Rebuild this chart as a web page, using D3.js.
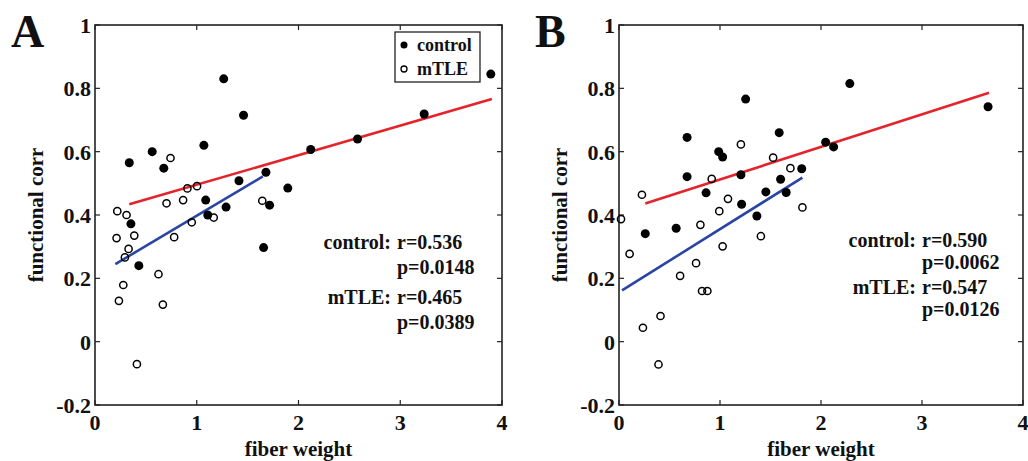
<!DOCTYPE html>
<html>
<head>
<meta charset="utf-8">
<script src="https://cdn.jsdelivr.net/npm/d3@7"></script>
<style>
  body { margin: 0; background: #fff; }
  svg text { font-family: "Liberation Serif", "Times New Roman", serif; font-weight: bold; fill: #111; }
</style>
</head>
<body>
<svg id="chart" width="1028" height="461"></svg>
<script>
// tick values / labels
var xTicks = [0, 1, 2, 3, 4];
var yTicks = [-0.2, 0, 0.2, 0.4, 0.6, 0.8, 1];
var yTickLabels = ["-0.2", "0", "0.2", "0.4", "0.6", "0.8", "1"];

// panel A points, [fiber weight, functional corr]
var controlA = [[0.337,0.565],[0.562,0.60],[0.676,0.548],[1.07,0.62],[1.265,0.83],[1.46,0.715],[1.68,0.535],
  [1.415,0.508],[1.088,0.447],[1.108,0.40],[1.288,0.425],[1.716,0.431],[1.895,0.485],[1.657,0.297],
  [0.353,0.372],[0.431,0.24],[2.12,0.607],[2.58,0.64],[3.235,0.719],[3.89,0.845]];
var mtleA = [[0.219,0.412],[0.31,0.40],[0.212,0.327],[0.386,0.335],[0.33,0.293],[0.294,0.266],[0.278,0.179],
  [0.235,0.129],[0.624,0.213],[0.667,0.117],[0.412,-0.071],[0.742,0.58],[0.703,0.437],[0.778,0.33],
  [0.866,0.447],[0.908,0.484],[1.003,0.491],[0.951,0.377],[1.167,0.392],[1.644,0.445]];
// fitted lines (end points)
var fitControlA = [[0.337,0.434],[3.9,0.766]];
var fitMtleA = [[0.2,0.245],[1.65,0.522]];

// panel B points
var controlB = [[0.26,0.341],[0.566,0.358],[0.674,0.645],[0.674,0.521],[0.862,0.47],[0.987,0.60],[1.026,0.583],
  [1.207,0.527],[1.214,0.434],[1.254,0.766],[1.365,0.397],[1.454,0.473],[1.586,0.66],[1.60,0.513],
  [1.655,0.471],[1.809,0.546],[2.046,0.63],[2.125,0.615],[2.285,0.815],[3.654,0.742]];
var mtleB = [[0.02,0.387],[0.105,0.277],[0.227,0.464],[0.237,0.044],[0.411,0.081],[0.391,-0.072],[0.605,0.208],
  [0.763,0.248],[0.806,0.369],[0.822,0.16],[0.875,0.16],[0.918,0.514],[0.993,0.412],[1.026,0.301],
  [1.079,0.451],[1.207,0.623],[1.405,0.333],[1.526,0.581],[1.697,0.548],[1.816,0.424]];
var fitControlB = [[0.26,0.436],[3.664,0.786]];
var fitMtleB = [[0.03,0.162],[1.816,0.518]];

var statsA = [["control:", "r=0.536"], ["", "p=0.0148"], ["mTLE:", "r=0.465"], ["", "p=0.0389"]];
var statsB = [["control:", "r=0.590"], ["", "p=0.0062"], ["mTLE:", "r=0.547"], ["", "p=0.0126"]];

var svg = d3.select("#chart");

function drawPanel(opt) {
  var x = d3.scaleLinear().domain([0, 4]).range([opt.left, opt.right]);
  var y = d3.scaleLinear().domain([-0.2, 1]).range([opt.bottom, opt.top]);
  var g = svg.append("g");

  // ticks (inside, on all four sides like matlab)
  var tl = 5;
  xTicks.forEach(function(t) {
    g.append("line").attr("x1", x(t)).attr("x2", x(t)).attr("y1", opt.bottom).attr("y2", opt.bottom - tl);
    g.append("line").attr("x1", x(t)).attr("x2", x(t)).attr("y1", opt.top).attr("y2", opt.top + tl);
    g.append("text").attr("x", x(t)).attr("y", opt.bottom + 25).attr("text-anchor", "middle")
      .attr("font-size", 22).text(t);
  });
  yTicks.forEach(function(t, i) {
    g.append("line").attr("x1", opt.left).attr("x2", opt.left + tl).attr("y1", y(t)).attr("y2", y(t));
    g.append("line").attr("x1", opt.right).attr("x2", opt.right - tl).attr("y1", y(t)).attr("y2", y(t));
    g.append("text").attr("x", opt.left - 4).attr("y", y(t) + 8).attr("text-anchor", "end")
      .attr("font-size", 22).text(yTickLabels[i]);
  });
  g.selectAll("line").attr("stroke", "#222").attr("stroke-width", 1.2);

  g.append("rect").attr("x", opt.left).attr("y", opt.top)
    .attr("width", opt.right - opt.left).attr("height", opt.bottom - opt.top)
    .attr("fill", "none").attr("stroke", "#222").attr("stroke-width", 1.6);

  var line = d3.line().x(function(d) { return x(d[0]); }).y(function(d) { return y(d[1]); });
  g.append("path").datum(opt.fitC).attr("d", line).attr("stroke", "#e3242b").attr("stroke-width", 2.6).attr("fill", "none");
  g.append("path").datum(opt.fitM).attr("d", line).attr("stroke", "#2b45a3").attr("stroke-width", 2.6).attr("fill", "none");

  g.selectAll(".ctl").data(opt.control).enter().append("circle")
    .attr("cx", function(d) { return x(d[0]); }).attr("cy", function(d) { return y(d[1]); })
    .attr("r", 4.5).attr("fill", "#000");
  g.selectAll(".mt").data(opt.mtle).enter().append("circle")
    .attr("cx", function(d) { return x(d[0]); }).attr("cy", function(d) { return y(d[1]); })
    .attr("r", 3.6).attr("fill", "none").attr("stroke", "#000").attr("stroke-width", 1.5);

  // axis labels
  g.append("text").attr("x", (opt.left + opt.right) / 2).attr("y", opt.bottom + 51)
    .attr("text-anchor", "middle").attr("font-size", 21).text("fiber weight");
  g.append("text").attr("transform", "translate(" + (opt.left - 52) + "," + ((opt.top + opt.bottom) / 2) + ") rotate(-90)")
    .attr("text-anchor", "middle").attr("font-size", 21).text("functional corr");

  // panel letter
  g.append("text").attr("x", opt.left - 84).attr("y", 47).attr("font-size", 46).text(opt.letter);

  // stats text
  opt.stats.forEach(function(s, i) {
    var yy = opt.statY[i];
    if (s[0]) g.append("text").attr("x", opt.statX - 6).attr("y", yy).attr("text-anchor", "end").attr("font-size", 20).text(s[0]);
    g.append("text").attr("x", opt.statX).attr("y", yy).attr("font-size", 20).text(s[1]);
  });
  return { x: x, y: y, g: g };
}

var pA = drawPanel({ left: 95, right: 502, top: 25, bottom: 405, control: controlA, mtle: mtleA,
  fitC: fitControlA, fitM: fitMtleA, letter: "A", stats: statsA, statX: 397, statY: [249, 274, 304, 329] });
var pB = drawPanel({ left: 619, right: 1023, top: 25, bottom: 405, control: controlB, mtle: mtleB,
  fitC: fitControlB, fitM: fitMtleB, letter: "B", stats: statsB, statX: 922, statY: [247, 269, 294, 316] });

// legend in panel A
var lg = pA.g.append("g");
lg.append("rect").attr("x", 395).attr("y", 32).attr("width", 85).attr("height", 50)
  .attr("fill", "#fff").attr("stroke", "#222").attr("stroke-width", 1.3);
lg.append("circle").attr("cx", 404).attr("cy", 45).attr("r", 3.5).attr("fill", "#000");
lg.append("circle").attr("cx", 404).attr("cy", 69).attr("r", 3).attr("fill", "none").attr("stroke", "#000").attr("stroke-width", 1.3);
lg.append("text").attr("x", 417).attr("y", 51).attr("font-size", 18).text("control");
lg.append("text").attr("x", 417).attr("y", 75).attr("font-size", 18).text("mTLE");
</script>
</body>
</html>
